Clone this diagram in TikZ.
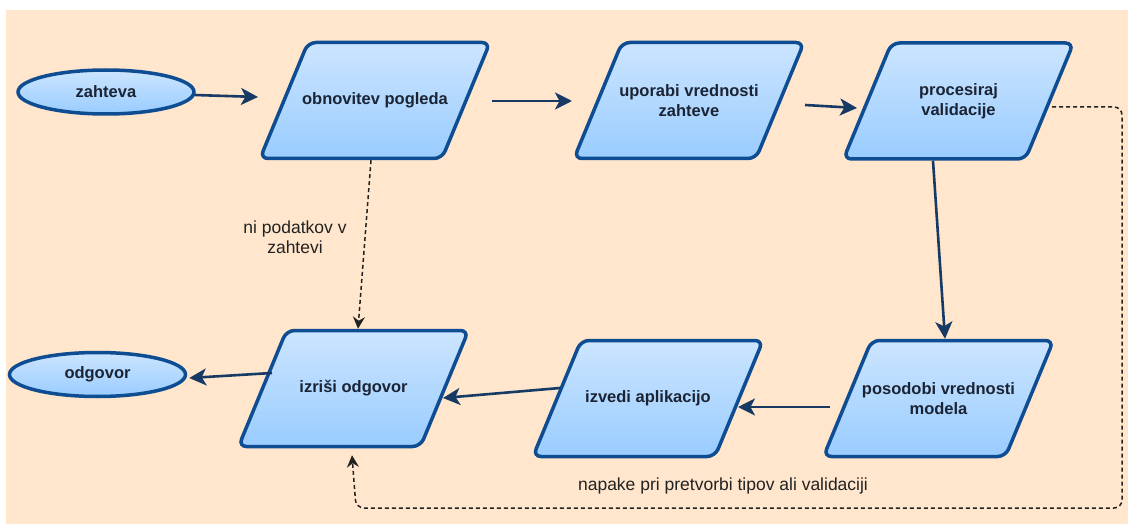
\documentclass[tikz,border=0pt]{standalone}
\usepackage{fontspec}
\setmainfont{Liberation Sans}
\usetikzlibrary{shapes.geometric,arrows.meta,calc}
\definecolor{peach}{HTML}{FFE6CC}
\definecolor{boxtop}{HTML}{CCE5FF}
\definecolor{boxbot}{HTML}{99CCFF}
\definecolor{boxline}{HTML}{0E4D92}
\definecolor{arrcol}{HTML}{173A64}
\definecolor{boxtext}{HTML}{1B2434}
\definecolor{dashcol}{HTML}{222222}
\newcommand{\boxfont}{\bfseries\fontsize{16.5}{20}\selectfont}
\newcommand{\lblfont}{\fontsize{17.5}{20}\selectfont}
\tikzset{
  pshape/.style={draw=boxline, line width=3.5pt, rounded corners=8pt,
    top color=boxtop, bottom color=boxbot},
  ptext/.style={rectangle, minimum width=230pt, minimum height=116pt,
    outer sep=1.75pt, text=boxtext, font=\boxfont, align=center, inner sep=0pt},
  ebox/.style={ellipse, minimum width=176pt, minimum height=44pt,
    draw=boxline, line width=3.5pt, top color=boxtop, bottom color=boxbot,
    text=boxtext, font=\boxfont, inner sep=0pt},
  arr/.style={draw=arrcol, line width=2.6pt, -{Stealth[length=17pt,width=17pt,inset=4.5pt]}},
  darr/.style={draw=dashcol, line width=1.5pt, dash pattern=on 4pt off 3pt,
    -{Stealth[length=12pt,width=12pt,inset=4pt]}},
  lbl/.style={text=dashcol, font=\lblfont, align=center, inner sep=0pt}
}
\newcommand{\pgram}[4]{%
  \shade[pshape] (#2-67,#3-58) -- (#2+115,#3-58) -- (#2+67,#3+58) -- (#2-115,#3+58) -- cycle;
  \node[ptext] (#1) at (#2,#3) {#4};}
\begin{document}
\begin{tikzpicture}[x=1pt,y=-1pt]
\useasboundingbox (0,0) rectangle (1128,524);
\fill[peach] (6,10) rectangle (1128,524);

\node[ebox] (zah) at (106,92) {zahteva};
\node[ebox] (odg) at (97.5,374.5) {odgovor};
\pgram{obn}{375}{100.5}{obnovitev pogleda}
\pgram{upo}{689}{100.5}{uporabi vrednosti\\zahteve}
\pgram{pro}{958.5}{101}{procesiraj\\validacije}
\pgram{izr}{353.5}{388.5}{izriši odgovor}
\pgram{izv}{648}{398.5}{izvedi aplikacijo}
\pgram{pos}{938.5}{398.5}{posodobi vrednosti\\modela}

\draw[arr] ($(zah.east)+(-1,3)$) -- ($(obn.center)+(-117,-3.5)$);
\draw[arr] ($(obn.center)+(117,0.5)$) -- ($(upo.center)+(-117,0.5)$);
\draw[arr] ($(upo.center)+(116,4.5)$) -- ($(pro.center)+(-101.5,7)$);
\draw[arr] ($(pro.south)+(-25.5,0)$) -- ($(pos.north)+(6.5,0)$);
\draw[arr] ($(pos.center)+(-108.5,8.5)$) -- ($(izv.center)+(90,8.5)$);
\draw[arr] ($(izv.center)+(-88,-10.5)$) -- ($(izr.center)+(89.5,9.5)$);
\draw[arr] ($(izr.center)+(-81.5,-15.5)$) -- ($(odg.east)+(2,3.5)$);

\draw[darr] ($(obn.south)+(-4,0)$) -- ($(izr.north)+(4.5,0)$);
\node[lbl] (l1) at (295,237) {ni podatkov v\\zahtevi};

\draw[darr, rounded corners=8pt] ($(pro.center)+(93.5,6)$) -- (1122,107) -- (1122,508) -- (356,508) -- ($(izr.south)+(-1.5,7)$);
\node[lbl] (l2) at (723,486) {napake pri pretvorbi tipov ali validaciji};
\end{tikzpicture}
\end{document}
